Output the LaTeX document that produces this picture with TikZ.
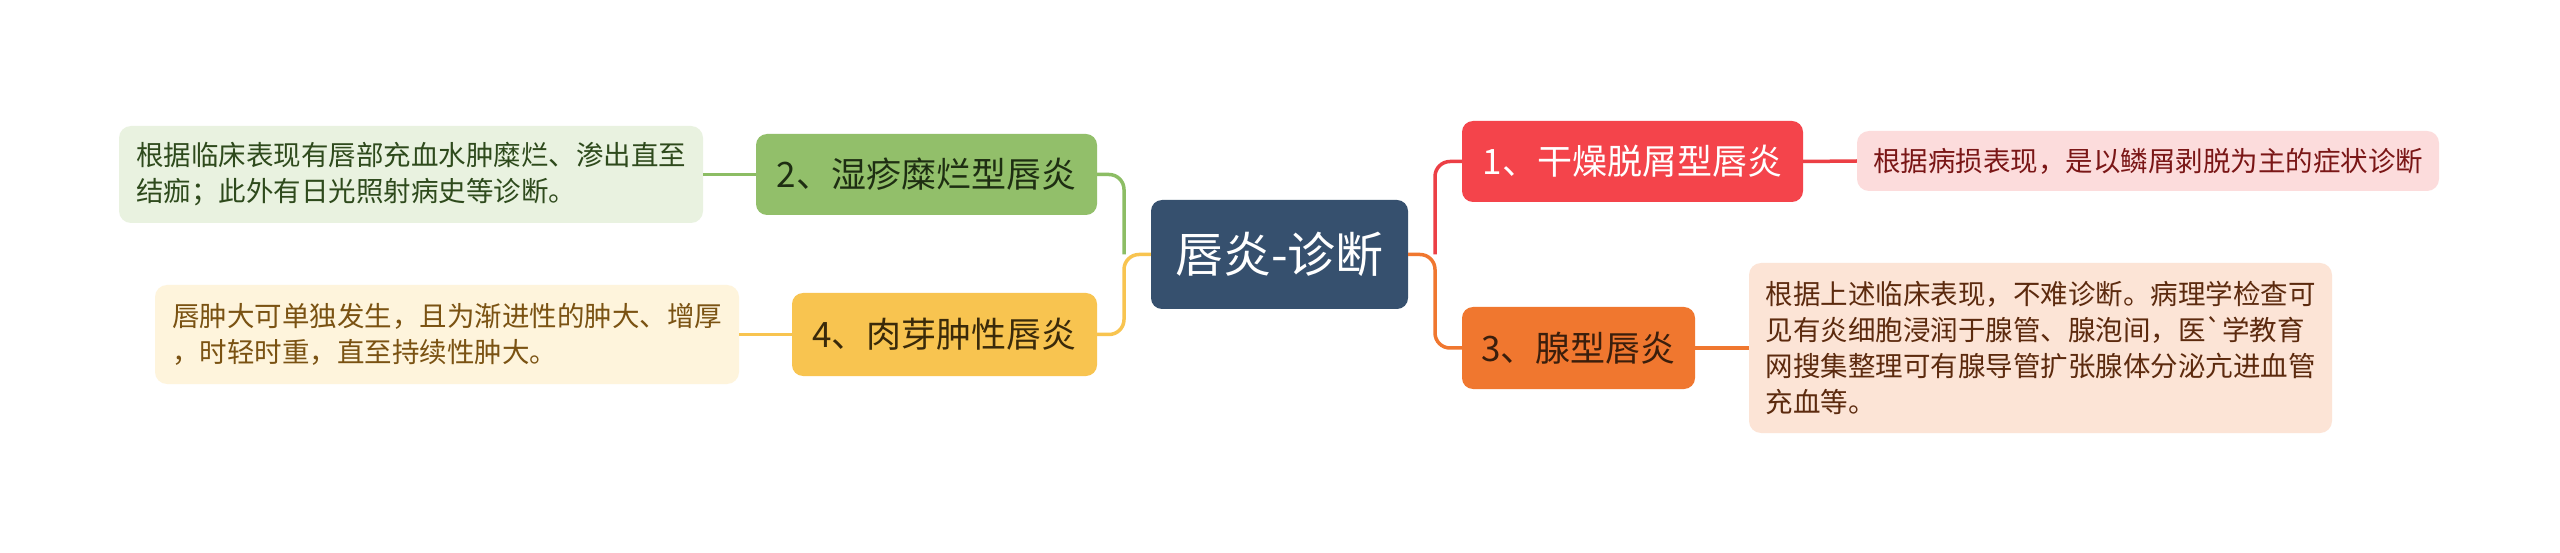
\documentclass[tikz,border=0pt]{standalone}
\usepackage{fontspec}
\newfontfamily\cjk{Noto Sans CJK SC}
\definecolor{cBlue}{HTML}{36506E}
\definecolor{cRed}{HTML}{F4444B}
\definecolor{cRedLine}{HTML}{EC3F45}
\definecolor{cRedLeaf}{HTML}{FCDCDC}
\definecolor{cRedText}{HTML}{7A1616}
\definecolor{cOrange}{HTML}{F0772F}
\definecolor{cOrangeLeaf}{HTML}{FCE4D6}
\definecolor{cOrangeText}{HTML}{5C2A0E}
\definecolor{cOrangeNodeText}{HTML}{3A1E0C}
\definecolor{cGreen}{HTML}{92BF6A}
\definecolor{cGreenLine}{HTML}{8CBD64}
\definecolor{cGreenLeaf}{HTML}{E9F2E0}
\definecolor{cGreenText}{HTML}{2E4A1C}
\definecolor{cGreenNodeText}{HTML}{1E2E12}
\definecolor{cYellow}{HTML}{F8C450}
\definecolor{cYellowLeaf}{HTML}{FEF4DC}
\definecolor{cYellowText}{HTML}{7A5212}
\definecolor{cYellowNodeText}{HTML}{3A2A0A}
\tikzset{
  box/.style={rounded corners=11pt, inner sep=0pt, anchor=center, font=\cjk},
  mainbox/.style={box, fill=cBlue, text=white, minimum width=257pt, minimum height=109pt,
     font=\cjk\fontsize{48}{56}\selectfont},
  topic/.style={box, minimum height=81pt, font=\cjk\fontsize{35}{42}\selectfont},
  leaf/.style={box, rounded corners=12pt, align=left, font=\cjk\fontsize{27.5}{36}\selectfont},
  conn/.style={line width=3.5pt, rounded corners=15pt},
}
\begin{document}
\begin{tikzpicture}[x=1pt,y=-1pt]
\useasboundingbox (0,0) rectangle (2560,553);
\fill[white] (0,0) rectangle (2560,553);
% central
\node[mainbox] (c) at (1279.5,254.5) {唇炎-诊断};
% right topics
\node[topic, fill=cRed, text=white, minimum width=341pt] (n1) at (1632.5,161.5) {1、干燥脱屑型唇炎};
\node[topic, fill=cOrange, text=cOrangeNodeText, minimum width=233pt, minimum height=82pt] (n3) at (1578.5,348) {3、腺型唇炎};
% left topics
\node[topic, fill=cGreen, text=cGreenNodeText, minimum width=341pt] (n2) at (926.5,174.5) {2、湿疹糜烂型唇炎};
\node[topic, fill=cYellow, text=cYellowNodeText, minimum width=305pt, minimum height=83pt] (n4) at (944.5,334.5) {4、肉芽肿性唇炎};
% leaves
\node[leaf, fill=cRedLeaf, text=cRedText, minimum width=582pt, minimum height=60pt] (l1) at (2148,161)
  {根据病损表现，是以鳞屑剥脱为主的症状诊断};
\node[leaf, fill=cOrangeLeaf, text=cOrangeText, minimum width=583pt, minimum height=170pt] (l3) at (2040.5,348)
  {根据上述临床表现，不难诊断。病理学检查可\\见有炎细胞浸润于腺管、腺泡间，医`学教育\\网搜集整理可有腺导管扩张腺体分泌亢进血管\\充血等。};
\node[leaf, fill=cGreenLeaf, text=cGreenText, minimum width=584pt, minimum height=97pt] (l2) at (411,174.5)
  {根据临床表现有唇部充血水肿糜烂、渗出直至\\结痂；此外有日光照射病史等诊断。};
\node[leaf, fill=cYellowLeaf, text=cYellowText, minimum width=584pt, minimum height=99pt] (l4) at (447,334.5)
  {唇肿大可单独发生，且为渐进性的肿大、增厚\\，时轻时重，直至持续性肿大。};
% junctions
\coordinate (jr) at (1435,254.5);
\coordinate (jl) at (1124,254.5);
% connectors right
\draw[conn, cRedLine] (jr) |- (n1.west);
\draw[conn, cOrange] (c.east) -- (jr) |- (n3.west);
\draw[conn, cRedLine] (n1.east) -- (l1.west);
\draw[conn, cOrange] (n3.east) -- (l3.west);
% connectors left
\draw[conn, cGreenLine] (jl) |- (n2.east);
\draw[conn, cYellow] (c.west) -- (jl) |- (n4.east);
\draw[conn, cGreenLine] (n2.west) -- (l2.east);
\draw[conn, cYellow] (n4.west) -- (l4.east);
\end{tikzpicture}
\end{document}
